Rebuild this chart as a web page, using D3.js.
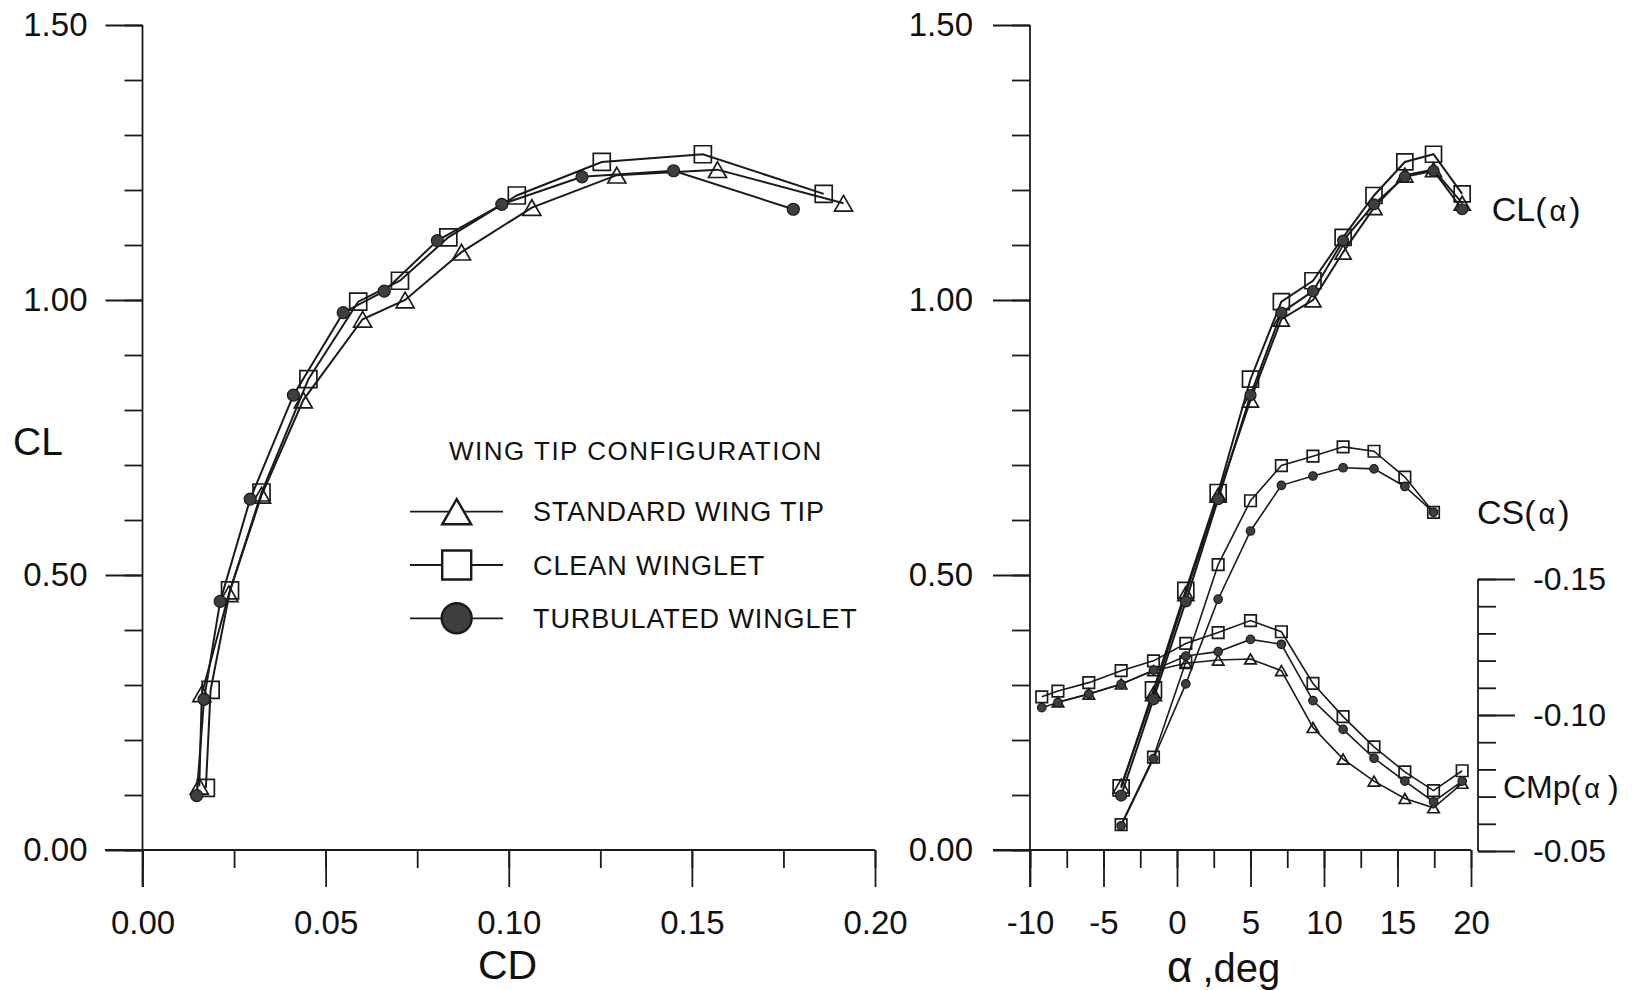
<!DOCTYPE html>
<html>
<head>
<meta charset="utf-8">
<script src="https://cdn.jsdelivr.net/npm/d3@7"></script>
<style>
  body { margin: 0; background: #fff; }
  svg { display: block; font-family: "Liberation Sans", Arial, sans-serif; }
  text { fill: #111; }
</style>
</head>
<body>
<div id="chart"></div>
<script>
// ---- data ----
// CL vs CD polar, one entry per test angle
const cdStd   = [0.0155, 0.0162, 0.0236, 0.0325, 0.0439, 0.0601, 0.0717, 0.0871, 0.1063, 0.1295, 0.1570, 0.1914];
const clStd   = [0.116, 0.284, 0.466, 0.645, 0.818, 0.965, 1.000, 1.087, 1.168, 1.227, 1.237, 1.176];
const cdClean = [0.0173, 0.0186, 0.0239, 0.0325, 0.0453, 0.0589, 0.0703, 0.0835, 0.1022, 0.1254, 0.1530, 0.1860];
const clClean = [0.113, 0.291, 0.472, 0.650, 0.856, 0.997, 1.035, 1.114, 1.190, 1.251, 1.265, 1.193];
const cdTurb  = [0.0148, 0.0168, 0.0212, 0.0294, 0.0412, 0.0548, 0.0660, 0.0805, 0.0981, 0.1200, 0.1450, 0.1777];
const clTurb  = [0.099, 0.274, 0.452, 0.638, 0.827, 0.977, 1.016, 1.108, 1.174, 1.224, 1.235, 1.165];

// angle of attack, deg (CMp sweep; CL uses alpha[3..], CS alpha[3..13])
const alpha = [-9.2, -8.1, -6.0, -3.8, -1.6, 0.6, 2.8, 5.0, 7.1, 9.25, 11.3, 13.4, 15.5, 17.45, 19.4];

const csClean = [0.046, 0.169, 0.342, 0.519, 0.635, 0.699, 0.716, 0.733, 0.725, 0.678, 0.614];
const csTurb  = [0.044, 0.166, 0.302, 0.456, 0.580, 0.663, 0.680, 0.695, 0.693, 0.661, 0.614];

const cmpClean = [-0.1067, -0.1088, -0.1119, -0.1163, -0.1199, -0.1263, -0.1303, -0.1347, -0.1306, -0.1116, -0.0994, -0.0883, -0.0791, -0.0722, -0.0795];
const cmpTurb  = [-0.1027, -0.1046, -0.1077, -0.1113, -0.1165, -0.1217, -0.1233, -0.1278, -0.1260, -0.1053, -0.0947, -0.0841, -0.0757, -0.0681, -0.0757];
// standard tip starts at the second angle
const cmpStd   = [-0.1048, -0.1077, -0.1114, -0.1163, -0.1190, -0.1202, -0.1206, -0.1163, -0.0954, -0.0838, -0.0757, -0.0693, -0.0659, -0.0749];

const cdTicks = [0, 0.05, 0.10, 0.15, 0.20];
const clTicks = [0, 0.5, 1.0, 1.5];
const alphaTicks = [-10, -5, 0, 5, 10, 15, 20];
const cmpTicks = [-0.15, -0.10, -0.05];

const legendNames = ['STANDARD WING TIP', 'CLEAN WINGLET', 'TURBULATED WINGLET'];

// ---- layout ----
const C = {
  width: 1633, height: 990,
  ink: '#1a1a1a',
  fill: '#3e3e3e',
  major: 37, minor: 18,
  tick_font: 33,
};

const svg = d3.select('#chart').append('svg')
  .attr('width', C.width).attr('height', C.height);

const xCD = d3.scaleLinear().domain([0, 0.2]).range([142.5, 875]);
const yCL = d3.scaleLinear().domain([0, 1.5]).range([850, 25]);
const xA  = d3.scaleLinear().domain([-10, 20]).range([1030, 1471]);
const yCMp = d3.scaleLinear().domain([-0.05, -0.15]).range([851, 579]);

// marker path centred on its bounding box
function marker(shape, s){
  if(shape === 'tri'){
    const h = s * 0.87;
    return `M0,${-h/2}L${s/2},${h/2}L${-s/2},${h/2}Z`;
  }
  if(shape === 'sq') return `M${-s/2},${-s/2}h${s}v${s}h${-s}Z`;
  const r = s / 2;
  return `M${r},0A${r},${r} 0 1,1 ${-r},0A${r},${r} 0 1,1 ${r},0Z`;
}

function draw_series(g, xs, ys, X, Y, shape, size, lw){
  const pts = xs.map((x, i) => [X(x), Y(ys[i])]);
  g.append('path')
    .attr('d', d3.line()(pts))
    .attr('fill', 'none')
    .attr('stroke', C.ink)
    .attr('stroke-width', lw);
  g.selectAll(null).data(pts).enter().append('path')
    .attr('transform', d => `translate(${d[0]},${d[1]})`)
    .attr('d', marker(shape, size))
    .attr('fill', shape === 'circ' ? C.fill : 'none')
    .attr('stroke', C.ink)
    .attr('stroke-width', shape === 'circ' ? 1.2 : 1.7);
}

// axis helper: majors with labels, minors without
function axis(g, kind, scale, majors, minors, fmt, pad, fontSize){
  const ax = d3[kind](scale).tickValues(majors).tickSize(C.major)
    .tickPadding(pad).tickFormat(fmt);
  const mi = d3[kind](scale).tickValues(minors).tickSize(C.minor).tickFormat('');
  g.append('g').call(mi);
  const gm = g.append('g').call(ax);
  g.selectAll('.domain').remove();
  g.selectAll('line').attr('stroke', C.ink).attr('stroke-width', 1.8);
  gm.selectAll('text')
    .attr('font-size', fontSize)
    .attr('font-family', '"Liberation Sans", Arial, sans-serif')
    .attr('fill', '#111');
  return g;
}

const range = (a, b, step) => d3.range(Math.round((b - a) / step) + 1).map(i => +(a + i * step).toFixed(4));

//------------------------------------------------------------
// Left panel: CL vs CD
//------------------------------------------------------------
const left = svg.append('g');

axis(left.append('g').attr('transform', 'translate(0,850)'), 'axisBottom', xCD,
  cdTicks, range(0, 0.2, 0.025), d => d.toFixed(2), 24, C.tick_font);
axis(left.append('g').attr('transform', 'translate(142.5,0)'), 'axisLeft', yCL,
  clTicks, range(0, 1.5, 0.1), d => d.toFixed(2), 18, C.tick_font);

left.append('line').attr('x1', 105).attr('x2', 875).attr('y1', 850).attr('y2', 850)
  .attr('stroke', C.ink).attr('stroke-width', 1.8);
left.append('line').attr('x1', 142.5).attr('x2', 142.5).attr('y1', 25).attr('y2', 887)
  .attr('stroke', C.ink).attr('stroke-width', 1.8);

left.append('text').attr('x', 507.5).attr('y', 979).attr('text-anchor', 'middle')
  .attr('font-size', 41).text('CD');
left.append('text').attr('x', 13).attr('y', 455).attr('font-size', 39).text('CL');

const lp = left.append('g');
draw_series(lp, cdStd, clStd, xCD, yCL, 'tri', 18, 2);
draw_series(lp, cdClean, clClean, xCD, yCL, 'sq', 17, 2);
draw_series(lp, cdTurb, clTurb, xCD, yCL, 'circ', 12, 2);

// legend
const lg = left.append('g');
lg.append('text').attr('x', 449).attr('y', 460).attr('font-size', 26)
  .attr('letter-spacing', 1.5).text('WING TIP CONFIGURATION');
const legendY = [511.7, 565, 618.3];
const legendShape = ['tri', 'sq', 'circ'];
const legendSize = [29, 29, 30];
legendNames.forEach((name, i) => {
  const y = legendY[i];
  lg.append('line').attr('x1', 410).attr('x2', 503).attr('y1', y).attr('y2', y)
    .attr('stroke', C.ink).attr('stroke-width', 1.8);
  lg.append('path').attr('transform', `translate(456.7,${y})`)
    .attr('d', marker(legendShape[i], legendSize[i]))
    .attr('fill', legendShape[i] === 'circ' ? C.fill : '#fff')
    .attr('stroke', C.ink).attr('stroke-width', 2.4);
  lg.append('text').attr('x', 533).attr('y', y + 9.5).attr('font-size', 27)
    .attr('letter-spacing', 0.9).text(name);
});

//------------------------------------------------------------
// Right panel: CL, CS, CMp vs alpha
//------------------------------------------------------------
const right = svg.append('g');

axis(right.append('g').attr('transform', 'translate(0,850)'), 'axisBottom', xA,
  alphaTicks, range(-10, 20, 2.5), d => String(d), 24, C.tick_font);
axis(right.append('g').attr('transform', 'translate(1030,0)'), 'axisLeft', yCL,
  clTicks, range(0, 1.5, 0.1), d => d.toFixed(2), 20, C.tick_font);
axis(right.append('g').attr('transform', 'translate(1478,0)'), 'axisRight', yCMp,
  cmpTicks, range(-0.15, -0.05, 0.01), d => d.toFixed(2), 18, 32);

right.append('line').attr('x1', 993).attr('x2', 1471).attr('y1', 850).attr('y2', 850)
  .attr('stroke', C.ink).attr('stroke-width', 1.8);
right.append('line').attr('x1', 1030).attr('x2', 1030).attr('y1', 25).attr('y2', 887)
  .attr('stroke', C.ink).attr('stroke-width', 1.8);
right.append('line').attr('x1', 1478).attr('x2', 1478).attr('y1', 579).attr('y2', 851)
  .attr('stroke', C.ink).attr('stroke-width', 1.8);

const at = right.append('text').attr('x', 1167).attr('y', 981.7).attr('font-size', 40);
at.append('tspan').attr('font-size', 44).text('\u03b1');
at.append('tspan').attr('dx', 10).text(',deg');

function curve_label(x, y, size, main, gap){
  const t = right.append('text').attr('x', x).attr('y', y).attr('font-size', size);
  t.append('tspan').text(main + '(');
  t.append('tspan').attr('dx', 3).attr('font-size', size * 0.85).text('\u03b1');
  t.append('tspan').attr('dx', gap).text(')');
}
curve_label(1491.7, 220.7, 34, 'CL', 3);
curve_label(1477, 524, 34, 'CS', 3);
curve_label(1503, 798, 32, 'CMp', 8);

const rp = right.append('g');
const aCL = alpha.slice(3);
const aCS = alpha.slice(3, 14);

// lift
draw_series(rp, aCL, clStd, xA, yCL, 'tri', 16, 2);
draw_series(rp, aCL, clClean, xA, yCL, 'sq', 16, 2);
draw_series(rp, aCL, clTurb, xA, yCL, 'circ', 11, 2);

// side force
draw_series(rp, aCS, csClean, xA, yCL, 'sq', 11.5, 1.6);
draw_series(rp, aCS, csTurb, xA, yCL, 'circ', 8.5, 1.6);

// pitching moment
draw_series(rp, alpha.slice(1), cmpStd, xA, yCMp, 'tri', 11.5, 1.6);
draw_series(rp, alpha, cmpClean, xA, yCMp, 'sq', 11.5, 1.6);
draw_series(rp, alpha, cmpTurb, xA, yCMp, 'circ', 8.5, 1.6);
</script>
</body>
</html>
